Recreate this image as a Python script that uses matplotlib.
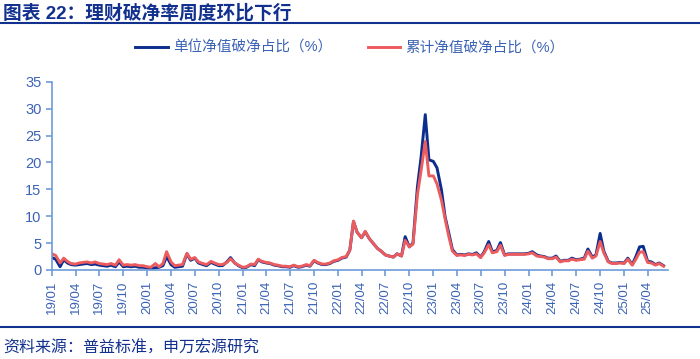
import matplotlib
matplotlib.use('Agg')  # No display available
import matplotlib.pyplot as plt  # Import matplotlib for plotting
import matplotlib.dates as mdates  # Date ticks on the x axis
import pandas as pd  # Import pandas for the date index

plt.rcParams['font.family'] = ['Liberation Sans', 'Noto Sans CJK SC', 'DejaVu Sans']

# Half-monthly readings, Jan 2019 .. Jun 2025
unit_nav = [
    2.3, 2.0, 0.6, 1.9, 1.3, 1.0, 0.9, 1.0, 1.1, 1.2, 1.0, 1.1,  # 2019 H1
    0.9, 0.8, 0.7, 0.9, 0.6, 1.5, 0.6, 0.7, 0.6, 0.7, 0.5, 0.5,  # 2019 H2
    0.4, 0.3, 0.4, 0.5, 0.8, 2.5, 1.0, 0.5, 0.6, 0.7, 3.0, 1.8,  # 2020 H1
    2.2, 1.3, 1.0, 0.8, 1.4, 1.1, 0.8, 0.8, 1.5, 2.3, 1.3, 0.8,  # 2020 H2
    0.4, 0.5, 1.0, 0.8, 1.9, 1.5, 1.3, 1.2, 0.9, 0.8, 0.6, 0.6,  # 2021 H1
    0.5, 0.8, 0.5, 0.6, 0.9, 0.7, 1.7, 1.3, 1.0, 1.0, 1.2, 1.6,  # 2021 H2
    1.8, 2.2, 2.4, 3.7, 9.0, 7.0, 6.0, 7.1, 5.8, 5.0, 4.0, 3.5,  # 2022 H1
    2.8, 2.6, 2.4, 3.0, 2.6, 6.2, 4.3, 5.0, 15.5, 21.0, 28.9, 20.5,  # 2022 H2
    20.2, 19.0, 14.9, 9.9, 6.9, 3.8, 2.8, 2.9, 2.8, 3.0, 2.9, 3.2,  # 2023 H1
    2.4, 3.4, 5.3, 3.4, 3.6, 5.1, 2.8, 3.0, 3.0, 3.0, 3.0, 3.0,  # 2023 H2
    3.1, 3.4, 2.8, 2.6, 2.5, 2.2, 2.2, 2.6, 1.6, 1.8, 1.8, 2.2,  # 2024 H1
    1.9, 2.0, 2.2, 3.9, 2.4, 2.8, 6.8, 3.5, 1.6, 1.3, 1.3, 1.4,  # 2024 H2
    1.3, 2.2, 1.0, 2.5, 4.3, 4.4, 1.6, 1.5, 1.0, 1.3, 0.8,  # 2025
]
cum_nav = [
    3.0, 2.7, 1.3, 2.2, 1.6, 1.2, 1.1, 1.3, 1.4, 1.5, 1.3, 1.5,
    1.2, 1.1, 1.0, 1.2, 0.9, 1.9, 0.9, 1.0, 0.9, 1.0, 0.8, 0.8,
    0.6, 0.5, 1.2, 0.6, 1.2, 3.4, 1.5, 0.8, 0.9, 1.0, 3.1, 2.0,
    2.3, 1.5, 1.2, 1.0, 1.6, 1.3, 1.0, 1.0, 1.4, 2.1, 1.3, 0.9,
    0.5, 0.6, 1.1, 1.0, 2.0, 1.6, 1.4, 1.3, 1.0, 0.9, 0.7, 0.7,
    0.6, 0.9, 0.6, 0.7, 1.0, 0.8, 1.8, 1.4, 1.1, 1.1, 1.3, 1.7,
    1.9, 2.3, 2.5, 3.7, 9.1, 7.0, 6.0, 7.2, 5.8, 5.0, 4.0, 3.5,
    2.8, 2.6, 2.4, 3.0, 2.6, 5.5, 4.3, 4.8, 14.0, 18.5, 23.9, 17.5,
    17.5, 16.0, 13.0, 9.5, 6.3, 3.5, 2.7, 2.8, 2.7, 2.9, 2.8, 3.0,
    2.3, 3.2, 4.7, 3.2, 3.4, 4.6, 2.7, 2.9, 2.9, 2.9, 2.9, 2.9,
    3.0, 3.2, 2.6, 2.5, 2.4, 2.1, 2.1, 2.4, 1.5, 1.7, 1.7, 2.0,
    1.8, 1.9, 2.0, 3.5, 2.2, 2.6, 5.3, 3.2, 1.5, 1.2, 1.2, 1.3,
    1.2, 2.0, 0.9, 2.0, 3.3, 3.4, 1.4, 1.3, 0.9, 1.2, 0.7,
]
dates = pd.date_range('2019-01-01', periods=len(unit_nav), freq='SMS')

title_text = '图表 22：理财破净率周度环比下行'
source_text = '资料来源：普益标准，申万宏源研究'
series_names = ['单位净值破净占比（%）', '累计净值破净占比（%）']

navy = '#12318F'
axis_blue = '#6E9BD8'
label_blue = '#3B63B5'

fig = plt.figure(figsize=(7, 3.59), dpi=100)
ax = fig.add_axes([0.0743, 0.248, 0.880, 0.524])

ax.plot(dates, unit_nav, color='#0B2D8E', linewidth=2.1, label=series_names[0])
ax.plot(dates, cum_nav, color='#EC5B5E', linewidth=2.1, label=series_names[1])

ax.set_ylim(0, 35)
ax.set_yticks(range(0, 36, 5))
ax.set_xlim(pd.Timestamp('2019-01-01'), pd.Timestamp('2025-06-18'))
ax.xaxis.set_major_locator(mdates.MonthLocator(bymonth=[1, 4, 7, 10]))
ax.xaxis.set_major_formatter(mdates.DateFormatter('%y/%m'))

# Axis styling
for side in ['top', 'right']:
    ax.spines[side].set_visible(False)
for side in ['left', 'bottom']:
    ax.spines[side].set_color(axis_blue)
    ax.spines[side].set_linewidth(1.2)
ax.tick_params(axis='both', colors=axis_blue, length=4, width=1.2, direction='out')
ax.tick_params(axis='y', labelcolor=label_blue, labelsize=10.5)
ax.tick_params(axis='x', labelcolor=label_blue, labelsize=9.5, labelrotation=90)

# Legend above the plot
fig.legend(loc='center', bbox_to_anchor=(0.5, 1 - 48 / 359), ncol=2, frameon=False,
           fontsize=10.5, labelcolor=label_blue, handlelength=2.2, handletextpad=0.4,
           columnspacing=2.4)

# Title, rules and source note
fig.text(0.004, 1 - 13 / 359, title_text, fontsize=13.5, fontweight='bold', color=navy,
         va='center', ha='left')
fig.add_artist(plt.Line2D([0, 1], [1 - 23 / 359, 1 - 23 / 359], color=navy, linewidth=1.5))
fig.add_artist(plt.Line2D([0, 1], [1 - 327 / 359, 1 - 327 / 359], color=navy, linewidth=1.5))
fig.text(0.004, 1 - 348 / 359, source_text, fontsize=11.5, color=navy, va='center', ha='left')

fig.savefig('out.png', dpi=100)
